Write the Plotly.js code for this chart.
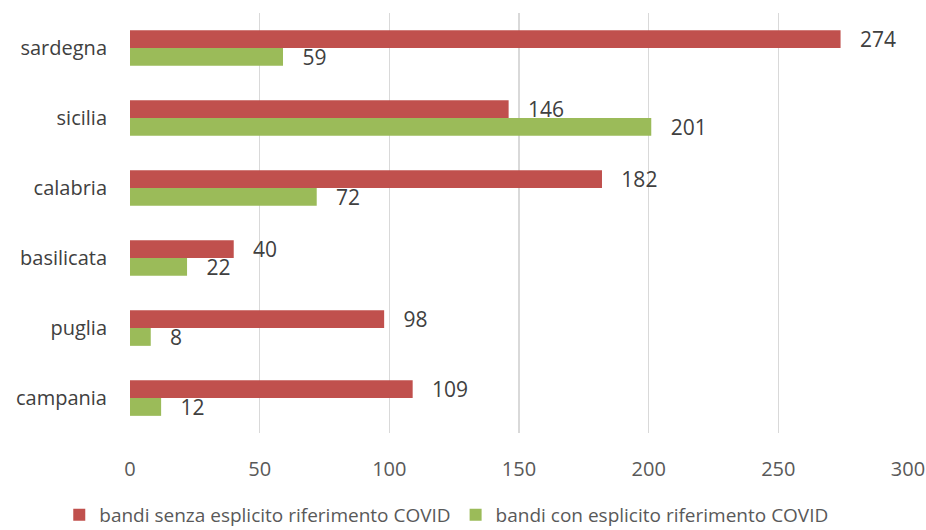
<!DOCTYPE html>
<html>
<head>
<meta charset="utf-8">
<script src="https://cdn.plot.ly/plotly-3.0.1.min.js"></script>
<style>html,body{margin:0;padding:0;background:#fff;}#chart{width:926px;height:530px;}</style>
</head>
<body>
<div id="chart"></div>
<script>
const regions = ["campania", "puglia", "basilicata", "calabria", "sicilia", "sardegna"];
const senzaCovid = [109, 98, 40, 182, 146, 274];
const conCovid = [12, 8, 22, 72, 201, 59];
const xTicks = [0, 50, 100, 150, 200, 250, 300];

const font = "'Open Sans', sans-serif";
const pad = '\u00a0\u00a0\u00a0';

const traces = [
  {
    type: 'bar', orientation: 'h', name: 'bandi con esplicito riferimento COVID',
    y: regions, x: conCovid,
    marker: {color: '#9BBB59'},
    text: conCovid.map(v => pad + v), textposition: 'outside', constraintext: 'none',
    textfont: {family: font, size: 21, color: '#404040'},
    cliponaxis: false, hoverinfo: 'x'
  },
  {
    type: 'bar', orientation: 'h', name: 'bandi senza esplicito riferimento COVID',
    y: regions, x: senzaCovid,
    marker: {color: '#C0504D'},
    text: senzaCovid.map(v => pad + v), textposition: 'outside', constraintext: 'none',
    textfont: {family: font, size: 21, color: '#404040'},
    cliponaxis: false, hoverinfo: 'x'
  }
];

const layout = {
  width: 926, height: 530,
  margin: {l: 130, r: 18, t: 13, b: 97, autoexpand: false},
  paper_bgcolor: '#fff', plot_bgcolor: '#fff',
  barmode: 'group', bargap: 0.49, bargroupgap: 0,
  font: {family: font, size: 18, color: '#595959'},
  xaxis: {
    range: [0, 300], tickvals: xTicks, ticktext: xTicks.map(String),
    showgrid: true, gridcolor: '#D9D9D9', gridwidth: 1.5,
    zeroline: false, showline: false, ticks: '',
    ticklabelstandoff: 22, automargin: false,
    tickfont: {family: font, size: 20, color: '#595959'}
  },
  yaxis: {
    type: 'category', categoryorder: 'array', categoryarray: regions,
    showgrid: false, zeroline: false, showline: false, ticks: '',
    ticklabelstandoff: 22, automargin: false,
    tickfont: {family: font, size: 20, color: '#404040'}
  },
  showlegend: true,
  legend: {
    orientation: 'h', xref: 'container', x: 0.064, xanchor: 'left',
    y: -0.195, yanchor: 'middle',
    traceorder: 'reversed',
    font: {family: font, size: 19, color: '#595959'},
    itemwidth: 30, tracegroupgap: 0
  }
};

Plotly.newPlot('chart', traces, layout, {displayModeBar: false, staticPlot: true});
</script>
</body>
</html>
